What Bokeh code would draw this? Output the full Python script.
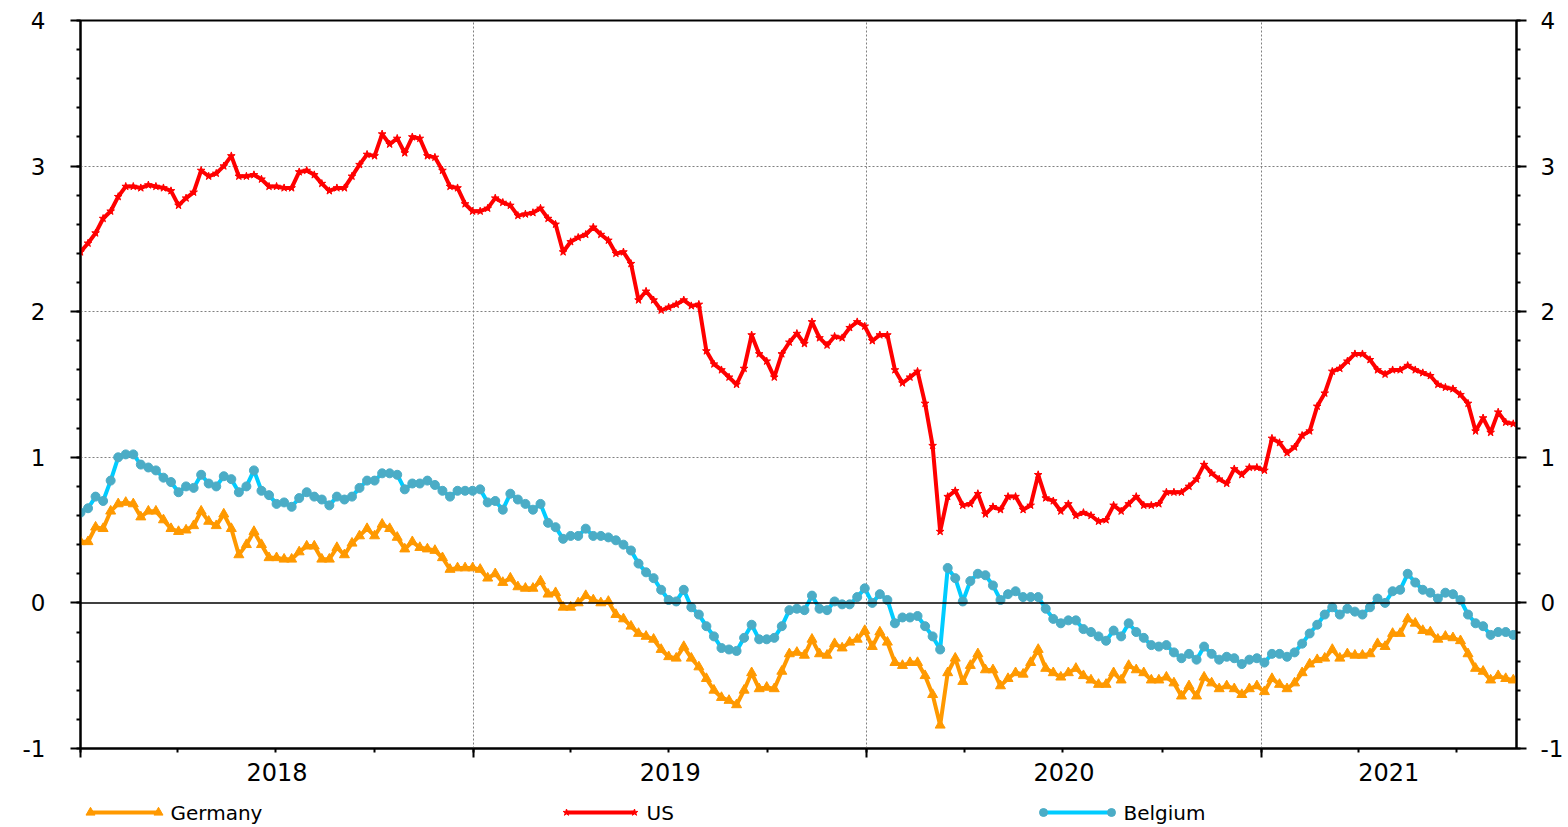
import pandas as pd
from bokeh.plotting import figure
from bokeh.layouts import column
from bokeh.models import (FixedTicker, LinearAxis, Range1d, Span, CustomJSTickFormatter)
from bokeh.core.properties import value
from bokeh.embed import file_html
from bokeh.resources import INLINE

start_date = "2018-01-01"

us = [2.41, 2.47, 2.54, 2.64, 2.69, 2.79, 2.86, 2.86, 2.85, 2.87, 2.86, 2.85, 2.83, 2.73, 2.78,
      2.82, 2.97, 2.93, 2.95, 3.00, 3.07, 2.93, 2.93, 2.94, 2.91, 2.86, 2.86, 2.85, 2.85, 2.96,
      2.97, 2.94, 2.88, 2.83, 2.85, 2.85, 2.93, 3.01, 3.08, 3.07, 3.22, 3.15, 3.19, 3.09, 3.20,
      3.19, 3.07, 3.06, 2.97,
      2.86, 2.85, 2.74, 2.69, 2.69, 2.71, 2.78, 2.75, 2.73, 2.66, 2.67, 2.68, 2.71, 2.64, 2.60,
      2.41, 2.48, 2.51, 2.53, 2.58, 2.53, 2.49, 2.40, 2.41, 2.33, 2.08, 2.14, 2.08, 2.01, 2.03,
      2.05, 2.08, 2.04, 2.05, 1.73, 1.64, 1.60, 1.55, 1.50, 1.61, 1.84, 1.71, 1.66, 1.55, 1.71,
      1.79, 1.85,
      1.78, 1.93, 1.82, 1.77, 1.83, 1.82, 1.89, 1.93, 1.90, 1.80, 1.84, 1.84, 1.60, 1.51, 1.55,
      1.59, 1.37, 1.08, 0.49, 0.73, 0.77, 0.67, 0.68, 0.75, 0.61, 0.66, 0.64, 0.73, 0.73, 0.64,
      0.67, 0.88, 0.72, 0.70, 0.63, 0.68, 0.60, 0.62, 0.60, 0.56, 0.57, 0.67, 0.63, 0.68, 0.73,
      0.67, 0.67, 0.68,
      0.76, 0.76, 0.76, 0.80, 0.85, 0.95, 0.89, 0.85, 0.82, 0.92, 0.88, 0.93, 0.93, 0.91, 1.13,
      1.10, 1.03, 1.07, 1.15, 1.18, 1.35, 1.44, 1.59, 1.61, 1.66, 1.71, 1.71, 1.67, 1.60, 1.57,
      1.60, 1.60, 1.63, 1.60, 1.58, 1.56, 1.50, 1.48, 1.47, 1.43, 1.37, 1.18, 1.27, 1.17, 1.31,
      1.24, 1.23]

belgium = [0.62, 0.65, 0.73, 0.70, 0.84, 1.00, 1.02, 1.02, 0.95, 0.93, 0.91, 0.86, 0.83, 0.76, 0.80,
           0.79, 0.88, 0.82, 0.80, 0.87, 0.85, 0.76, 0.80, 0.91, 0.77, 0.74, 0.68, 0.69, 0.66, 0.72,
           0.76, 0.73, 0.71, 0.67, 0.73, 0.71, 0.73, 0.79, 0.84, 0.84, 0.89, 0.89, 0.88, 0.78, 0.82,
           0.82, 0.84, 0.81, 0.77,
           0.73, 0.77, 0.77, 0.77, 0.78, 0.69, 0.70, 0.64, 0.75, 0.71, 0.68, 0.64, 0.68, 0.55, 0.52,
           0.44, 0.46, 0.46, 0.51, 0.46, 0.46, 0.45, 0.43, 0.40, 0.36, 0.27, 0.21, 0.17, 0.09, 0.02,
           0.01, 0.09, -0.03, -0.08, -0.16, -0.23, -0.31, -0.32, -0.33, -0.24, -0.15, -0.25, -0.25,
           -0.24, -0.16, -0.05, -0.04,
           -0.05, 0.05, -0.04, -0.05, 0.01, -0.01, -0.01, 0.04, 0.10, 0.00, 0.06, 0.02, -0.14, -0.10,
           -0.10, -0.09, -0.16, -0.23, -0.32, 0.24, 0.17, 0.01, 0.15, 0.20, 0.19, 0.12, 0.02, 0.06,
           0.08, 0.04, 0.04, 0.04, -0.04, -0.11, -0.14, -0.12, -0.12, -0.18, -0.20, -0.23, -0.26,
           -0.19, -0.23, -0.14, -0.20, -0.24, -0.29, -0.30,
           -0.29, -0.34, -0.38, -0.35, -0.39, -0.30, -0.35, -0.39, -0.37, -0.38, -0.42, -0.39, -0.38,
           -0.41, -0.35, -0.35, -0.37, -0.34, -0.28, -0.21, -0.15, -0.08, -0.03, -0.08, -0.04, -0.06,
           -0.08, -0.03, 0.03, 0.00, 0.08, 0.09, 0.20, 0.14, 0.09, 0.07, 0.03, 0.07, 0.06, 0.02,
           -0.08, -0.14, -0.16, -0.22, -0.20, -0.20, -0.22]

germany = [0.42, 0.42, 0.52, 0.51, 0.63, 0.68, 0.69, 0.68, 0.59, 0.63, 0.63, 0.57, 0.51, 0.49, 0.50,
           0.53, 0.63, 0.56, 0.53, 0.61, 0.51, 0.33, 0.40, 0.49, 0.40, 0.31, 0.31, 0.30, 0.30, 0.35,
           0.39, 0.39, 0.30, 0.30, 0.38, 0.33, 0.41, 0.46, 0.51, 0.46, 0.54, 0.51, 0.45, 0.37, 0.42,
           0.38, 0.37, 0.36, 0.31,
           0.23, 0.24, 0.24, 0.24, 0.23, 0.17, 0.20, 0.14, 0.17, 0.11, 0.10, 0.10, 0.15, 0.06, 0.07,
           -0.03, -0.03, 0.00, 0.05, 0.02, 0.00, 0.01, -0.08, -0.11, -0.16, -0.21, -0.23, -0.25,
           -0.32, -0.37, -0.38, -0.30, -0.38, -0.44, -0.52, -0.60, -0.65, -0.67, -0.70, -0.60, -0.48,
           -0.59, -0.58, -0.59, -0.47, -0.35, -0.34,
           -0.36, -0.25, -0.35, -0.36, -0.28, -0.31, -0.27, -0.25, -0.19, -0.30, -0.20, -0.27, -0.41,
           -0.43, -0.41, -0.41, -0.50, -0.63, -0.84, -0.48, -0.38, -0.54, -0.43, -0.35, -0.46, -0.46,
           -0.57, -0.52, -0.48, -0.49, -0.41, -0.32, -0.45, -0.48, -0.51, -0.48, -0.45, -0.50, -0.53,
           -0.56, -0.56, -0.48, -0.53, -0.43, -0.46, -0.48, -0.53, -0.53,
           -0.51, -0.55, -0.64, -0.57, -0.64, -0.51, -0.55, -0.59, -0.57, -0.59, -0.63, -0.59, -0.57,
           -0.61, -0.52, -0.56, -0.59, -0.55, -0.48, -0.42, -0.39, -0.38, -0.32, -0.38, -0.35, -0.36,
           -0.36, -0.35, -0.28, -0.30, -0.21, -0.21, -0.11, -0.14, -0.19, -0.20, -0.25, -0.23, -0.24,
           -0.26, -0.35, -0.45, -0.47, -0.53, -0.50, -0.52, -0.53]

series_names = ["Germany", "US", "Belgium"]
years = [2018, 2019, 2020, 2021]
y_major = [-1, 0, 1, 2, 3, 4]

dates = pd.date_range(start_date, periods=len(us), freq="7D")


def ms(d):
    return pd.Timestamp(d).value / 1e6


x_end = "2021-08-26"
year_ticks = [ms(f"{y}-01-01") for y in years]
quarter_ticks = [ms(f"{y}-{m:02d}-01") for y in years for m in (1, 4, 7, 10)
                 if ms(f"{y}-{m:02d}-01") <= ms(x_end)]
# year labels are centred in the visible part of each year
year_bounds = year_ticks + [ms(x_end)]
mid_ticks = [(year_bounds[k] + year_bounds[k + 1]) / 2 for k in range(len(years))]
y_minor = [round(-1 + 0.2 * k, 1) for k in range(26)]

FONT = "DejaVu Sans"
COLORS = {"Germany": "#FF9900", "US": "#FF0000", "Belgium": "#00CCFF"}
MARKER_COLORS = {"Germany": "#FF9900", "US": "#FF0000", "Belgium": "#4BACC6"}
MARKERS = {"Germany": "triangle", "US": "star", "Belgium": "circle"}
MSIZE = {"Germany": 10, "US": 8, "Belgium": 9}

FRAME_LEFT = 80
FRAME_W = 1436

p = figure(x_axis_type="datetime", frame_width=FRAME_W, frame_height=728,
           x_range=Range1d(ms(start_date), ms(x_end)), y_range=Range1d(-1, 4),
           output_backend="svg", toolbar_location=None,
           min_border_left=FRAME_LEFT, min_border_top=20, min_border_bottom=47, min_border_right=5)
p.background_fill_color = "white"
p.border_fill_color = "white"
p.outline_line_color = "black"
p.outline_line_width = 2

# grid
p.ygrid.ticker = FixedTicker(ticks=[-1, 1, 2, 3, 4])
p.xgrid.ticker = FixedTicker(ticks=year_ticks)
for g in (p.xgrid, p.ygrid):
    g.grid_line_color = "#808080"
    g.grid_line_dash = "2 2"
    g.grid_line_width = 1

# bottom axis A: ticks only (labels not drawn)
xa = p.xaxis[0]
xa.ticker = FixedTicker(ticks=year_ticks, minor_ticks=quarter_ticks)
xa.major_tick_out = 9
xa.major_tick_in = 0
xa.minor_tick_out = 4
xa.minor_tick_in = 0
xa.major_tick_line_width = 2
xa.minor_tick_line_width = 2
xa.axis_line_width = 2
xa.major_label_text_font_size = "0px"
xa.major_label_text_color = None
xa.major_label_text_alpha = 0
xa.major_label_standoff = 0

# bottom axis B: year labels
xb = LinearAxis(ticker=FixedTicker(ticks=mid_ticks, minor_ticks=[]),
                formatter=CustomJSTickFormatter(code="return String(new Date(tick).getUTCFullYear())"))
xb.axis_line_color = None
xb.major_tick_line_color = None
xb.minor_tick_line_color = None
xb.major_tick_out = 0
xb.major_tick_in = 0
xb.major_label_standoff = 5
xb.major_label_text_font = FONT
xb.major_label_text_font_size = "24px"
xb.major_label_text_color = "black"
p.add_layout(xb, "below")

# y axes
yfmt = CustomJSTickFormatter(code="return tick.toFixed(0)")
ya = p.yaxis[0]
yr = LinearAxis()
p.add_layout(yr, "right")
for ax, standoff in ((ya, 25), (yr, 14)):
    ax.ticker = FixedTicker(ticks=y_major, minor_ticks=y_minor)
    ax.formatter = yfmt
    ax.major_tick_out = 10
    ax.major_tick_in = 0
    ax.minor_tick_out = 4
    ax.minor_tick_in = 0
    ax.major_tick_line_width = 2
    ax.minor_tick_line_width = 2
    ax.axis_line_width = 2
    ax.major_label_standoff = standoff
    ax.major_label_text_font = FONT
    ax.major_label_text_font_size = "23px"
    ax.major_label_text_color = "black"

p.add_layout(Span(location=0, dimension="width", line_color="black", line_width=1.5))

# series
for name, vals in zip(series_names, [germany, us, belgium]):
    p.line(dates, vals, line_color=COLORS[name], line_width=4)
    p.scatter(dates, vals, marker=MARKERS[name], size=MSIZE[name], color=MARKER_COLORS[name])

# legend strip (separate small canvas below the chart; x in page pixels)
LEG_H = 31
leg = figure(frame_width=FRAME_W, frame_height=LEG_H,
             x_range=Range1d(FRAME_LEFT, FRAME_LEFT + FRAME_W), y_range=Range1d(0, LEG_H),
             output_backend="svg", toolbar_location=None,
             x_axis_location=None, y_axis_location=None,
             min_border_left=FRAME_LEFT, min_border_right=30, min_border_top=0, min_border_bottom=0)
leg.grid.visible = False
leg.outline_line_color = None
leg.background_fill_color = "white"
leg.border_fill_color = "white"
leg_starts = [90, 566, 1043]
leg_len = 68
leg_y = 14
for name, x0 in zip(series_names, leg_starts):
    leg.line([x0, x0 + leg_len], [leg_y, leg_y], line_color=COLORS[name], line_width=4)
    leg.scatter([x0, x0 + leg_len], [leg_y, leg_y], marker=MARKERS[name], size=MSIZE[name] - 1,
                color=MARKER_COLORS[name])
    leg.text([x0 + leg_len + 12], [leg_y], text=[name], text_font=value(FONT),
             text_font_size="20px", text_baseline="middle", text_align="left", text_color="black")

layout = column(p, leg, spacing=0)
open("out.html", "w").write(file_html(layout, INLINE))
